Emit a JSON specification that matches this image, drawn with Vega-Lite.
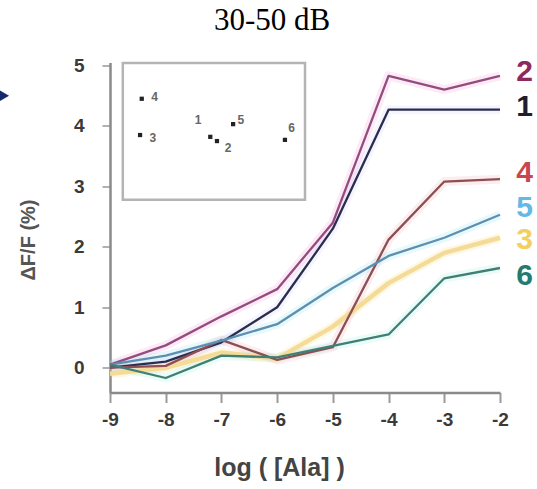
{
  "$schema": "https://vega.github.io/schema/vega-lite/v6.json",
  "autosize": "none",
  "width": 390,
  "height": 330,
  "padding": {"left": 110, "top": 62.5, "right": 37, "bottom": 96.5},
  "background": "white",
  "title": {"text": "30-50 dB", "font": "Liberation Serif", "fontSize": 31, "fontWeight": "normal", "color": "#000000", "anchor": "middle", "dx": -33, "offset": 20},
  "config": {"view": {"stroke": null}},
  "datasets": {
    "curves": [
      {"series": "1", "x": -9, "y": 0.0}, {"series": "1", "x": -8, "y": 0.1}, {"series": "1", "x": -7, "y": 0.42}, {"series": "1", "x": -6, "y": 1.0}, {"series": "1", "x": -5, "y": 2.3}, {"series": "1", "x": -4, "y": 4.27}, {"series": "1", "x": -3, "y": 4.27}, {"series": "1", "x": -2, "y": 4.27},
      {"series": "2", "x": -9, "y": 0.05}, {"series": "2", "x": -8, "y": 0.37}, {"series": "2", "x": -7, "y": 0.85}, {"series": "2", "x": -6, "y": 1.3}, {"series": "2", "x": -5, "y": 2.4}, {"series": "2", "x": -4, "y": 4.83}, {"series": "2", "x": -3, "y": 4.6}, {"series": "2", "x": -2, "y": 4.83},
      {"series": "3", "x": -9, "y": -0.1}, {"series": "3", "x": -8, "y": 0.0}, {"series": "3", "x": -7, "y": 0.25}, {"series": "3", "x": -6, "y": 0.15}, {"series": "3", "x": -5, "y": 0.68}, {"series": "3", "x": -4, "y": 1.4}, {"series": "3", "x": -3, "y": 1.9}, {"series": "3", "x": -2, "y": 2.15},
      {"series": "4", "x": -9, "y": 0.0}, {"series": "4", "x": -8, "y": 0.03}, {"series": "4", "x": -7, "y": 0.46}, {"series": "4", "x": -6, "y": 0.13}, {"series": "4", "x": -5, "y": 0.34}, {"series": "4", "x": -4, "y": 2.12}, {"series": "4", "x": -3, "y": 3.08}, {"series": "4", "x": -2, "y": 3.12},
      {"series": "5", "x": -9, "y": 0.05}, {"series": "5", "x": -8, "y": 0.2}, {"series": "5", "x": -7, "y": 0.45}, {"series": "5", "x": -6, "y": 0.72}, {"series": "5", "x": -5, "y": 1.32}, {"series": "5", "x": -4, "y": 1.85}, {"series": "5", "x": -3, "y": 2.15}, {"series": "5", "x": -2, "y": 2.53},
      {"series": "6", "x": -9, "y": 0.05}, {"series": "6", "x": -8, "y": -0.17}, {"series": "6", "x": -7, "y": 0.2}, {"series": "6", "x": -6, "y": 0.17}, {"series": "6", "x": -5, "y": 0.36}, {"series": "6", "x": -4, "y": 0.55}, {"series": "6", "x": -3, "y": 1.48}, {"series": "6", "x": -2, "y": 1.65}
    ],
    "endlabels": [
      {"series": "2", "x": -1.71, "y": 4.89},
      {"series": "1", "x": -1.71, "y": 4.31},
      {"series": "4", "x": -1.71, "y": 3.22},
      {"series": "5", "x": -1.71, "y": 2.64},
      {"series": "3", "x": -1.71, "y": 2.12},
      {"series": "6", "x": -1.71, "y": 1.51}
    ],
    "insetbox": [{"x": -8.77, "x2": -5.5, "y": 2.78, "y2": 5.04}],
    "insetpts": [
      {"id": "4", "x": -8.43, "y": 4.45},
      {"id": "3", "x": -8.46, "y": 3.85},
      {"id": "1", "x": -7.2, "y": 3.82},
      {"id": "2", "x": -7.08, "y": 3.75},
      {"id": "5", "x": -6.79, "y": 4.03},
      {"id": "6", "x": -5.86, "y": 3.77}
    ],
    "insetlabels": [
      {"id": "4", "x": -8.2, "y": 4.48},
      {"id": "3", "x": -8.23, "y": 3.8},
      {"id": "1", "x": -7.42, "y": 4.1},
      {"id": "5", "x": -6.65, "y": 4.1},
      {"id": "2", "x": -6.88, "y": 3.64},
      {"id": "6", "x": -5.74, "y": 3.97}
    ],
    "marker": [{"x": -10.9, "y": 4.5}]
  },
  "encoding": {
    "x": {"field": "x", "type": "quantitative", "scale": {"domain": [-9, -2], "nice": false, "zero": false},
      "axis": {"values": [-9, -8, -7, -6, -5, -4, -3, -2], "title": "log ( [Ala] )", "grid": false,
        "domainColor": "#8a8a8a", "domainWidth": 2.5, "tickColor": "#9a9a9a", "tickWidth": 2, "tickSize": 10,
        "labelFont": "Liberation Sans", "labelFontSize": 19, "labelFontWeight": "bold", "labelColor": "#3a3a3a", "labelPadding": 8,
        "labelExpr": "datum.value + ''", "labelFlush": false,
        "titleFont": "Liberation Sans", "titleFontSize": 25, "titleFontWeight": "bold", "titleColor": "#444444",
        "titleX": 169, "titleY": 75, "titleBaseline": "middle", "titleAlign": "center", "titleAnchor": null}},
    "y": {"field": "y", "type": "quantitative", "scale": {"domain": [-0.41, 5.05], "nice": false, "zero": false},
      "axis": {"values": [0, 1, 2, 3, 4, 5], "title": "ΔF/F (%)", "grid": false,
        "domainColor": "#8a8a8a", "domainWidth": 2.5, "tickColor": "#b0b0b0", "tickWidth": 2, "tickSize": 8,
        "labelFont": "Liberation Sans", "labelFontSize": 19, "labelFontWeight": "bold", "labelColor": "#3a3a3a", "labelPadding": 18,
        "labelFlush": false,
        "titleFont": "Liberation Sans", "titleFontSize": 20, "titleFontWeight": "bold", "titleColor": "#555555",
        "titleX": -82, "titleY": 177, "titleBaseline": "middle", "titleAlign": "center", "titleAngle": -90, "titleAnchor": null}}
  },
  "layer": [
    {
      "data": {"name": "insetbox"},
      "mark": {"type": "rect", "fill": null, "stroke": "#b4b4b4", "strokeWidth": 2.5},
      "encoding": {"x2": {"field": "x2"}, "y2": {"field": "y2"}}
    },
    {
      "data": {"name": "insetpts"},
      "mark": {"type": "point", "shape": "square", "filled": true, "size": 18, "color": "#222222", "opacity": 1},
      "encoding": {}
    },
    {
      "data": {"name": "insetlabels"},
      "mark": {"type": "text", "font": "Liberation Sans", "fontSize": 12, "fontWeight": "bold", "color": "#666666", "align": "center", "baseline": "middle"},
      "encoding": {"text": {"field": "id"}}
    },
    {
      "data": {"name": "marker"},
      "mark": {"type": "point", "shape": "triangle-right", "filled": true, "size": 130, "color": "#14286e", "opacity": 1, "clip": false},
      "encoding": {}
    },
    {
      "data": {"name": "curves"},
      "mark": {"type": "line", "strokeWidth": 9, "opacity": 0.18, "strokeJoin": "round"},
      "encoding": {"color": {"field": "series", "type": "nominal", "legend": null,
        "scale": {"domain": ["1", "2", "3", "4", "5", "6"], "range": ["#c8c8ff", "#f090d0", "#f8d060", "#f0a0a8", "#80e0f0", "#90e8d8"]}},
        "detail": {"field": "series"}}
    },
    {
      "data": {"name": "curves"},
      "transform": [{"filter": "datum.series == '3'"}],
      "mark": {"type": "line", "strokeWidth": 4.5, "color": "#f4dc98", "strokeJoin": "round"},
      "encoding": {}
    },
    {
      "data": {"name": "curves"},
      "transform": [{"filter": "datum.series != '3'"}],
      "mark": {"type": "line", "strokeWidth": 2.3, "strokeJoin": "round"},
      "encoding": {"color": {"field": "series", "type": "nominal", "legend": null,
        "scale": {"domain": ["1", "2", "4", "5", "6"], "range": ["#2b2d4f", "#944c7e", "#8c4f55", "#5e8fb0", "#3f7f76"]}},
        "detail": {"field": "series"}}
    },
    {
      "data": {"name": "endlabels"},
      "mark": {"type": "text", "font": "Liberation Sans", "fontSize": 30, "fontWeight": "bold", "align": "left", "baseline": "middle", "clip": false},
      "encoding": {"text": {"field": "series"},
        "color": {"field": "series", "type": "nominal", "legend": null,
          "scale": {"domain": ["1", "2", "3", "4", "5", "6"], "range": ["#1e1e2e", "#8a2a5e", "#f2cf60", "#c9454f", "#63b9e3", "#247a72"]}}}
    }
  ],
  "resolve": {"scale": {"color": "independent"}}
}
